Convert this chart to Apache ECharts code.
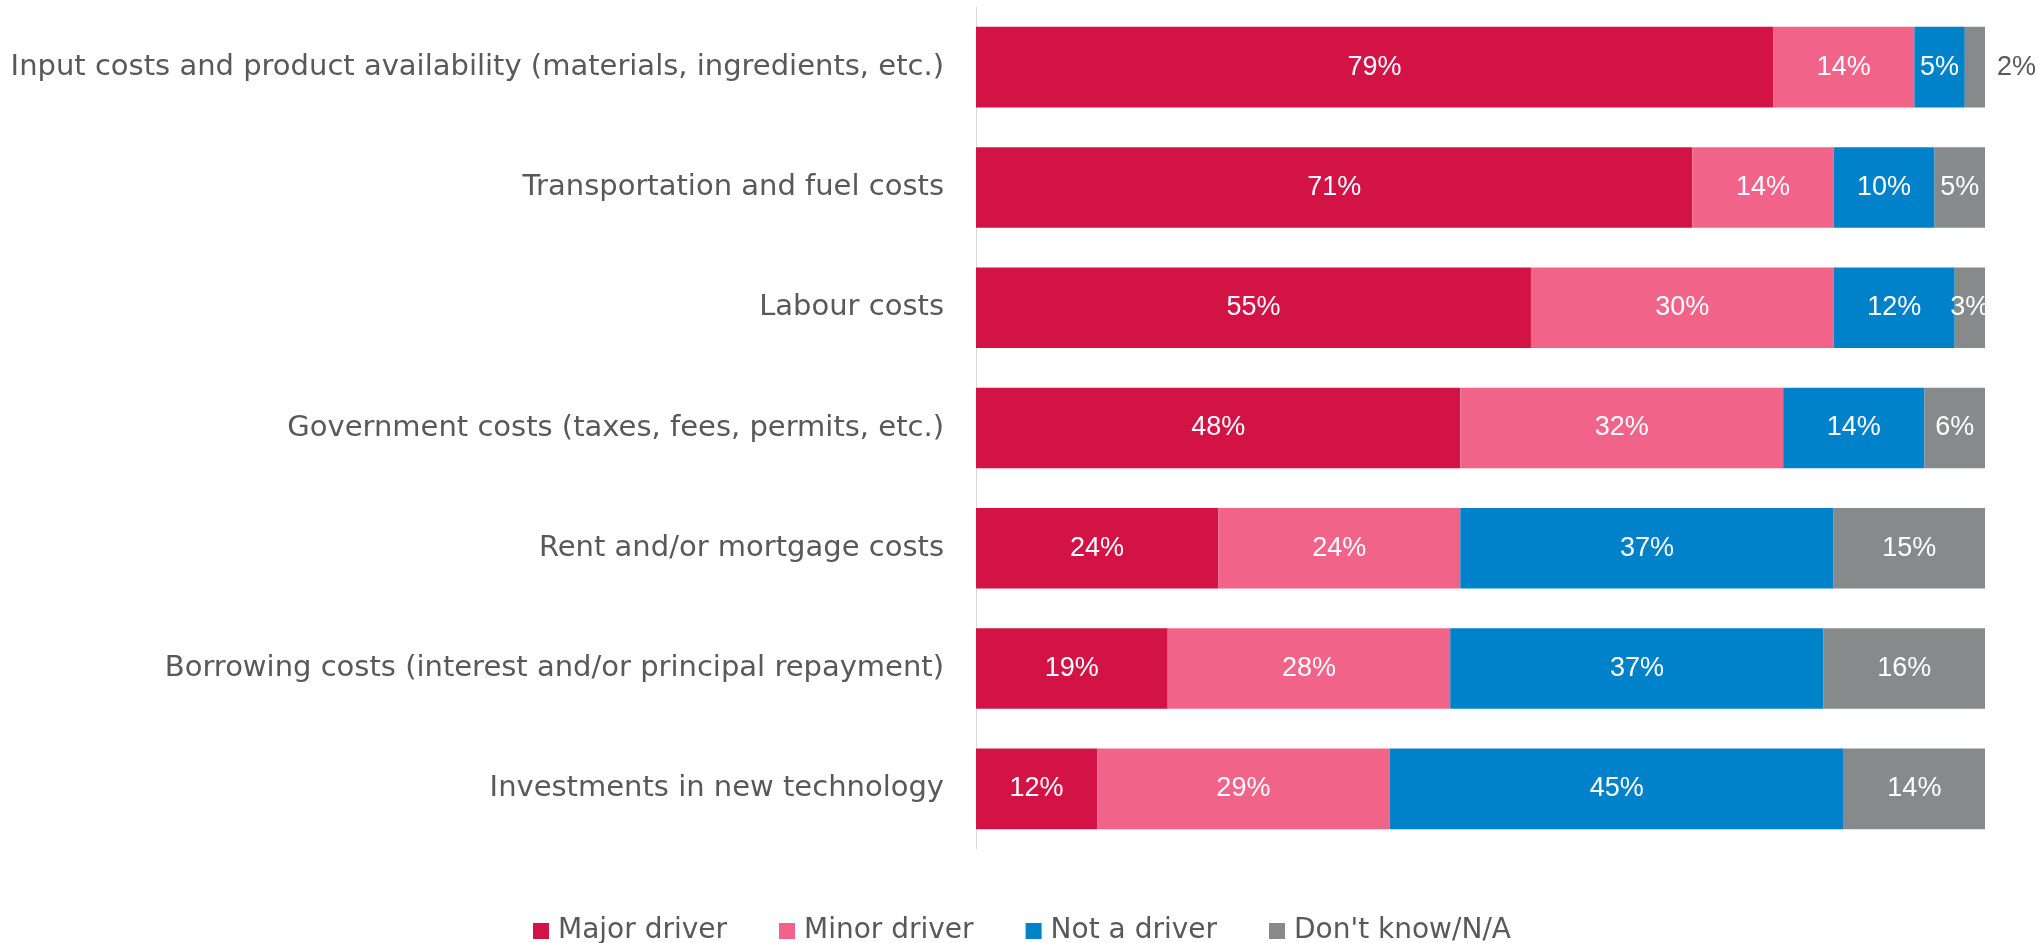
<!DOCTYPE html>
<html>
<head>
<meta charset="utf-8">
<script src="https://cdn.jsdelivr.net/npm/echarts@6/dist/echarts.min.js"></script>
<style>
  html, body { margin: 0; padding: 0; background: #ffffff; }
  #chart { width: 2036px; height: 943px; }
</style>
</head>
<body>
<div id="chart"></div>
<script>
const categories = [
  "Input costs and product availability (materials, ingredients, etc.)",
  "Transportation and fuel costs",
  "Labour costs",
  "Government costs (taxes, fees, permits, etc.)",
  "Rent and/or mortgage costs",
  "Borrowing costs (interest and/or principal repayment)",
  "Investments in new technology"
];
const seriesNames = ["Major driver", "Minor driver", "Not a driver", "Don't know/N/A"];
const majorDriver = [79, 71, 55, 48, 24, 19, 12];
const minorDriver = [14, 14, 30, 32, 24, 28, 29];
const notDriver   = [5, 10, 12, 14, 37, 37, 45];
const dontKnow    = [2, 5, 3, 6, 15, 16, 14];
const colors = ["#D31245", "#F26389", "#0082CA", "#878A8B"];

const axisFont = "'DejaVu Sans', 'Liberation Sans', sans-serif";
const labelFont = "'Liberation Sans', sans-serif";

function makeData(values) {
  return values.map(v => {
    if (v < 3) {
      return { value: v, label: { position: 'right', distance: 12, color: '#595959' } };
    }
    return v;
  });
}

const allValues = [majorDriver, minorDriver, notDriver, dontKnow];
const series = allValues.map((vals, i) => ({
  name: seriesNames[i],
  type: 'bar',
  stack: 'total',
  barWidth: '67%',
  itemStyle: { color: colors[i] },
  label: {
    show: true,
    position: 'inside',
    formatter: '{c}%',
    color: '#ffffff',
    fontFamily: labelFont,
    fontSize: 27
  },
  emphasis: { disabled: true },
  data: makeData(vals)
}));

const chart = echarts.init(document.getElementById('chart'));
chart.setOption({
  animation: false,
  color: colors,
  grid: { left: 976, right: 51, top: 7, bottom: 94, containLabel: false },
  legend: {
    data: seriesNames,
    left: 528,
    top: 912,
    itemWidth: 16,
    itemHeight: 16,
    itemGap: 52,
    icon: 'rect',
    textStyle: { color: '#595959', fontFamily: axisFont, fontSize: 28, padding: [0, 0, 0, 4] }
  },
  xAxis: {
    type: 'value',
    min: 0,
    max: 100,
    show: false
  },
  yAxis: {
    type: 'category',
    inverse: true,
    data: categories,
    axisLine: { show: true, lineStyle: { color: '#D9D9D9', width: 1 } },
    axisTick: { show: false },
    splitLine: { show: false },
    axisLabel: {
      color: '#595959',
      fontFamily: axisFont,
      fontSize: 29,
      margin: 32
    }
  },
  series: series
});
</script>
</body>
</html>
